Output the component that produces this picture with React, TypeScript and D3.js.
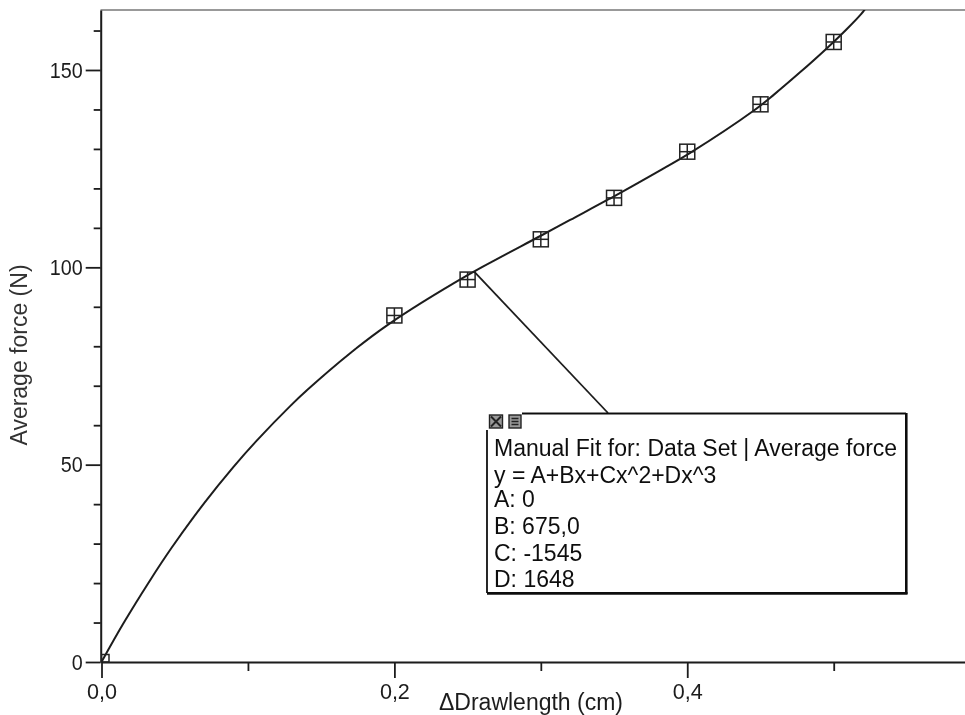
import { useEffect, useRef } from "react";
import * as d3 from "d3";

// measured points (the first one sits on the origin, behind the axes)
const drawLengths = [0, 0.2, 0.25, 0.3, 0.35, 0.4, 0.45, 0.5];
const avgForces = [0, 87.8, 96.9, 107.1, 117.6, 129.3, 141.3, 157.1];

// manual fit curve
const fitX = [0, 0.015, 0.033, 0.048, 0.07, 0.09, 0.106, 0.129, 0.141, 0.17, 0.195, 0.25, 0.3, 0.32, 0.35, 0.383, 0.402, 0.445, 0.459, 0.477, 0.495, 0.509, 0.519, 0.523];
const fitY = [0, 9.8, 20.6, 29.0, 40.2, 49.4, 56.1, 64.9, 69.1, 78.3, 85.3, 98.0, 108.0, 112.0, 118.0, 124.9, 129.0, 139.6, 143.7, 149.4, 155.4, 160.4, 164.3, 166.2];

const xMajorTicks = [0, 0.2, 0.4];
const xMinorTicks = [0.1, 0.3, 0.5];
const yMajorTicks = [0, 50, 100, 150];
const yMinorTicks = [10, 20, 30, 40, 60, 70, 80, 90, 110, 120, 130, 140, 160];

const fitNoteLines = [
  "Manual Fit for: Data Set | Average force",
  "y = A+Bx+Cx^2+Dx^3",
  "A: 0",
  "B: 675,0",
  "C: -1545",
  "D: 1648",
];
const noteBaselines = [456, 483, 507, 534, 561, 587];

const FONT = "'Liberation Sans', Arial, sans-serif";
const INK = "#1c1c1c";

export default function App() {
  const svgRef = useRef<SVGSVGElement | null>(null);

  useEffect(() => {
    if (!svgRef.current) return;
    const W = 965;
    const H = 715;
    const svg = d3.select(svgRef.current);
    svg.selectAll("*").remove();
    svg.attr("width", W).attr("height", H);

    const x = d3.scaleLinear().domain([0, 0.59]).range([101.5, 965.5]);
    const y = d3.scaleLinear().domain([0, 165.2]).range([662, 10]);

    const defs = svg.append("defs");
    defs.append("clipPath").attr("id", "plot").append("rect").attr("x", 101).attr("y", 10).attr("width", W - 101).attr("height", 653);
    defs.append("filter").attr("id", "scan").append("feGaussianBlur").attr("stdDeviation", 0.35);

    const root = svg.append("g").attr("filter", "url(#scan)");

    // Frame
    root.append("line").attr("x1", 100.5).attr("x2", W).attr("y1", 10).attr("y2", 10).attr("stroke", "#777").attr("stroke-width", 1.4);

    // X axis
    const xAxis = root.append("g").attr("transform", `translate(0,${y(0)})`);
    xAxis.call(d3.axisBottom(x).tickValues(xMajorTicks).tickSize(16).tickSizeOuter(0).tickFormat((d) => d3.format(".1f")(d as number).replace(".", ",")));
    xAxis.select(".domain").attr("stroke", INK).attr("stroke-width", 2);
    xAxis.selectAll("line").attr("stroke", INK).attr("stroke-width", 1.8);
    xAxis.selectAll("text").attr("font-family", FONT).attr("font-size", 22).attr("fill", INK).attr("y", 21)
      .attr("textLength", 30).attr("lengthAdjust", "spacingAndGlyphs");
    root.append("g").attr("transform", `translate(0,${y(0)})`)
      .call(d3.axisBottom(x).tickValues(xMinorTicks).tickSize(9).tickSizeOuter(0).tickFormat(() => ""))
      .call((g) => g.select(".domain").remove())
      .call((g) => g.selectAll("line").attr("stroke", INK).attr("stroke-width", 1.8));

    // Y axis
    const yAxis = root.append("g").attr("transform", `translate(${x(0) - 0.8},0)`);
    yAxis.call(d3.axisLeft(y).tickValues(yMajorTicks).tickSize(15).tickSizeOuter(0).tickFormat(d3.format("d")));
    yAxis.select(".domain").attr("stroke", INK).attr("stroke-width", 2);
    yAxis.selectAll("line").attr("stroke", INK).attr("stroke-width", 1.8);
    yAxis.selectAll("text").attr("font-family", FONT).attr("font-size", 22).attr("fill", INK).attr("x", -18)
      .attr("textLength", (d) => String(d).length * 11).attr("lengthAdjust", "spacingAndGlyphs");
    root.append("g").attr("transform", `translate(${x(0) - 0.8},0)`)
      .call(d3.axisLeft(y).tickValues(yMinorTicks).tickSize(7).tickSizeOuter(0).tickFormat(() => ""))
      .call((g) => g.select(".domain").remove())
      .call((g) => g.selectAll("line").attr("stroke", INK).attr("stroke-width", 1.8));

    // Axis titles
    root.append("text")
      .attr("x", 531).attr("y", 710).attr("text-anchor", "middle")
      .attr("font-family", FONT).attr("font-size", 23).attr("fill", INK)
      .text("ΔDrawlength (cm)");
    root.append("text")
      .attr("transform", "translate(27,355) rotate(-90)").attr("text-anchor", "middle")
      .attr("font-family", FONT).attr("font-size", 23).attr("fill", "#333")
      .text("Average force (N)");

    // Fit curve
    const line = d3.line<number>().x((d) => x(d)).y((_, i) => y(fitY[i])).curve(d3.curveCatmullRom);
    root.append("path")
      .attr("d", line(fitX))
      .attr("clip-path", "url(#plot)")
      .attr("fill", "none").attr("stroke", INK).attr("stroke-width", 2);

    // Markers: square with a cross
    const s = 7.5;
    const markers = root.append("g").attr("clip-path", "url(#plot)")
      .selectAll(".marker").data(drawLengths).join("g")
      .attr("class", "marker")
      .attr("transform", (d, i) => `translate(${x(d)},${y(avgForces[i])})`)
      .attr("fill", "none").attr("stroke", "#222").attr("stroke-width", 1.5);
    markers.append("rect").attr("x", -s).attr("y", -s).attr("width", s * 2).attr("height", s * 2);
    markers.append("line").attr("x1", -s).attr("x2", s);
    markers.append("line").attr("y1", -s).attr("y2", s);

    // Leader from the curve to the note
    root.append("line")
      .attr("x1", x(0.2545)).attr("y1", y(98.9)).attr("x2", 608).attr("y2", 413)
      .attr("stroke", INK).attr("stroke-width", 1.8);

    // Fit note
    const note = root.append("g");
    note.append("rect").attr("x", 487).attr("y", 413).attr("width", 419.5).attr("height", 180.5).attr("fill", "#fff").attr("stroke", "none");
    const edges = [
      [522, 413.5, 906, 413.5, 2],
      [487, 430, 487, 593, 1.8],
      [487, 593.3, 907.5, 593.3, 2.8],
      [906.3, 413, 906.3, 594, 2.6],
    ];
    note.selectAll(".edge").data(edges).join("line")
      .attr("class", "edge")
      .attr("x1", (d) => d[0]).attr("y1", (d) => d[1]).attr("x2", (d) => d[2]).attr("y2", (d) => d[3])
      .attr("stroke", "#111").attr("stroke-width", (d) => d[4]);

    // Close / minimise buttons
    const closeBtn = note.append("g").attr("transform", "translate(489.5,415)").attr("fill", "none").attr("stroke", "#222");
    closeBtn.append("rect").attr("width", 13).attr("height", 13).attr("fill", "#999").attr("stroke-width", 1.4);
    closeBtn.append("path").attr("d", "M1.5,1.5L11.5,11.5M11.5,1.5L1.5,11.5").attr("stroke-width", 2);
    const minBtn = note.append("g").attr("transform", "translate(509,415)").attr("fill", "none").attr("stroke", "#222");
    minBtn.append("rect").attr("width", 12).attr("height", 13).attr("fill", "#999").attr("stroke-width", 1.4);
    minBtn.append("path").attr("d", "M2.5,3.5H9.5M2.5,6.5H9.5M2.5,9.5H9.5").attr("stroke-width", 1.6);

    note.selectAll(".note-line").data(fitNoteLines).join("text")
      .attr("class", "note-line")
      .attr("x", 494).attr("y", (_, i) => noteBaselines[i])
      .attr("font-family", FONT).attr("font-size", 23).attr("fill", "#111")
      .text((d) => d);
  }, []);

  return <svg ref={svgRef} style={{ position: "absolute", left: 0, top: 0, display: "block", background: "#fff" }} />;
}
